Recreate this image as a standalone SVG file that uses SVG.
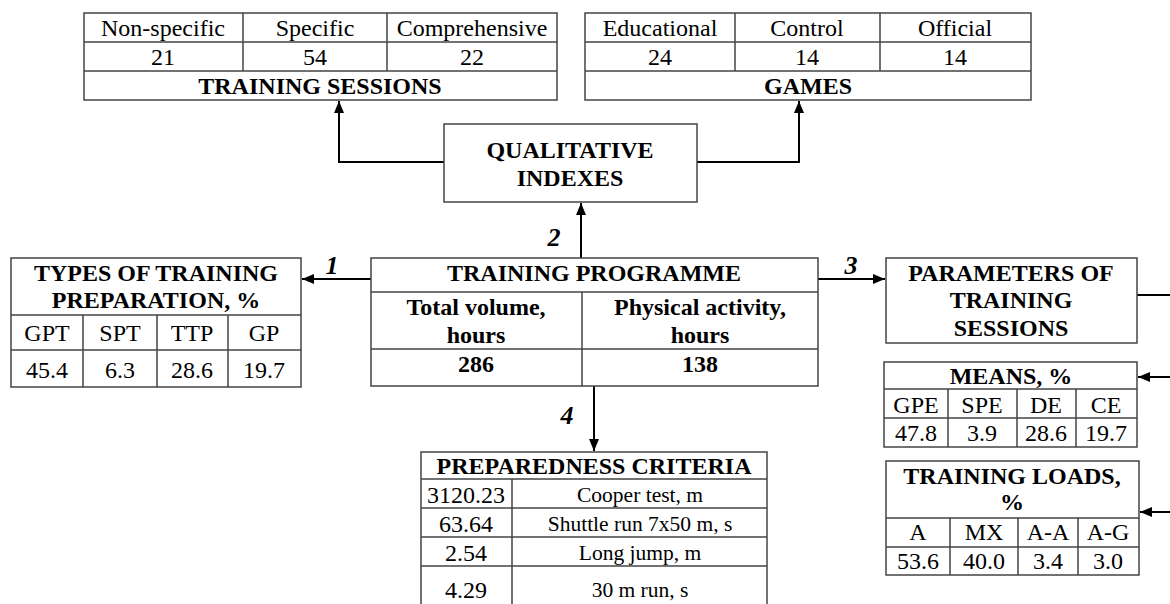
<svg xmlns="http://www.w3.org/2000/svg" width="1170" height="604" viewBox="0 0 1170 604" font-family="'Liberation Serif', 'Times New Roman', Times, 'DejaVu Serif', serif">
<style>
text{font-family:'Liberation Serif','Times New Roman',Times,'DejaVu Serif',serif;font-size:24px;fill:#000;text-anchor:middle}
.b{font-weight:bold}
.s{font-size:21.5px}
.lab{font-weight:bold;font-style:italic;font-size:26px}
.box{fill:#fff;stroke:#444;stroke-width:1.5}
.ln{stroke:#444;stroke-width:1.5;fill:none}
.con{stroke:#000;stroke-width:2;fill:none}
</style>
<defs>
<marker id="ah" viewBox="0 0 12 10" refX="12" refY="5" markerWidth="12" markerHeight="10" markerUnits="userSpaceOnUse" orient="auto">
<path d="M0,0 L12,5 L0,10 Z" fill="#000"/>
</marker>
</defs>
<rect width="1170" height="604" fill="#fff"/>

<g id="connectors">
<path class="con" d="M444,162 H339 V101" marker-end="url(#ah)"/>
<path class="con" d="M697,162 H799 V101" marker-end="url(#ah)"/>
<path class="con" d="M581,258 V203" marker-end="url(#ah)"/>
<path class="con" d="M371,279 H302" marker-end="url(#ah)"/>
<path class="con" d="M818,279 H885" marker-end="url(#ah)"/>
<path class="con" d="M594,386 V451" marker-end="url(#ah)"/>
<path class="con" d="M1137,295 H1170"/>
<path class="con" d="M1170,377 H1138" marker-end="url(#ah)"/>
<path class="con" d="M1170,512 H1140" marker-end="url(#ah)"/>
<text class="lab" x="332" y="274">1</text>
<text class="lab" x="554" y="246">2</text>
<text class="lab" x="851" y="274">3</text>
<text class="lab" x="567" y="424">4</text>
</g>

<g id="training-sessions">
<rect class="box" x="84" y="13" width="473" height="87"/>
<path class="ln" d="M84,42 H557 M84,71 H557 M243,13 V71 M387,13 V71"/>
<text x="163" y="36">Non-specific</text>
<text x="315" y="36">Specific</text>
<text x="472" y="36">Comprehensive</text>
<text x="163" y="65">21</text>
<text x="315" y="65">54</text>
<text x="472" y="65">22</text>
<text class="b" x="320" y="94">TRAINING SESSIONS</text>
</g>

<g id="games">
<rect class="box" x="585" y="13" width="446" height="87"/>
<path class="ln" d="M585,42 H1031 M585,71 H1031 M735,13 V71 M880,13 V71"/>
<text x="660" y="36">Educational</text>
<text x="807" y="36">Control</text>
<text x="955" y="36">Official</text>
<text x="660" y="65">24</text>
<text x="807" y="65">14</text>
<text x="955" y="65">14</text>
<text class="b" x="808" y="94">GAMES</text>
</g>

<g id="qualitative-indexes">
<rect class="box" x="444" y="124" width="253" height="78"/>
<text class="b" x="570" y="158">QUALITATIVE</text>
<text class="b" x="570" y="186">INDEXES</text>
</g>

<g id="types-of-training">
<rect class="box" x="11" y="258" width="290" height="129"/>
<path class="ln" d="M11,315 H301 M11,350 H301 M83,315 V387 M157,315 V387 M228,315 V387"/>
<text class="b" x="156" y="281">TYPES OF TRAINING</text>
<text class="b" x="156" y="308">PREPARATION, %</text>
<text x="47" y="341">GPT</text>
<text x="120" y="341">SPT</text>
<text x="192" y="341">TTP</text>
<text x="264" y="341">GP</text>
<text x="47" y="378">45.4</text>
<text x="120" y="378">6.3</text>
<text x="192" y="378">28.6</text>
<text x="264" y="378">19.7</text>
</g>

<g id="training-programme">
<rect class="box" x="371" y="258" width="447" height="128"/>
<path class="ln" d="M371,292 H818 M371,349 H818 M582,292 V386"/>
<text class="b" x="594" y="281">TRAINING PROGRAMME</text>
<text class="b" x="476" y="315">Total volume,</text>
<text class="b" x="476" y="343">hours</text>
<text class="b" x="700" y="315">Physical activity,</text>
<text class="b" x="700" y="343">hours</text>
<text class="b" x="476" y="372">286</text>
<text class="b" x="700" y="372">138</text>
</g>

<g id="parameters">
<rect class="box" x="886" y="258" width="251" height="85"/>
<text class="b" x="1011" y="281">PARAMETERS OF</text>
<text class="b" x="1011" y="308">TRAINING</text>
<text class="b" x="1011" y="336">SESSIONS</text>
</g>

<g id="means">
<rect class="box" x="884" y="362" width="253" height="85"/>
<path class="ln" d="M884,389 H1137 M884,418 H1137 M948,389 V447 M1017,389 V447 M1076,389 V447"/>
<text class="b" x="1011" y="384">MEANS, %</text>
<text x="916" y="413">GPE</text>
<text x="982" y="413">SPE</text>
<text x="1046" y="413">DE</text>
<text x="1106" y="413">CE</text>
<text x="916" y="441">47.8</text>
<text x="982" y="441">3.9</text>
<text x="1046" y="441">28.6</text>
<text x="1106" y="441">19.7</text>
</g>

<g id="training-loads">
<rect class="box" x="886" y="461" width="253" height="114"/>
<path class="ln" d="M886,518 H1139 M886,547 H1139 M950,518 V575 M1018,518 V575 M1078,518 V575"/>
<text class="b" x="1012" y="484">TRAINING LOADS,</text>
<text class="b" x="1012" y="510">%</text>
<text x="918" y="540">A</text>
<text x="984" y="540">MX</text>
<text x="1048" y="540">A-A</text>
<text x="1108" y="540">A-G</text>
<text x="918" y="569">53.6</text>
<text x="984" y="569">40.0</text>
<text x="1048" y="569">3.4</text>
<text x="1108" y="569">3.0</text>
</g>

<g id="preparedness-criteria">
<rect class="box" x="421" y="452" width="346" height="170"/>
<path class="ln" d="M421,479 H767 M421,508 H767 M421,537 H767 M421,566 H767 M512,479 V622"/>
<text class="b" x="594" y="474">PREPAREDNESS CRITERIA</text>
<text x="466" y="503">3120.23</text>
<text x="466" y="532">63.64</text>
<text x="466" y="561">2.54</text>
<text x="466" y="598">4.29</text>
<text class="s" x="640" y="502">Cooper test, m</text>
<text class="s" x="640" y="531">Shuttle run 7x50 m, s</text>
<text class="s" x="640" y="560">Long jump, m</text>
<text class="s" x="640" y="597">30 m run, s</text>
</g>
</svg>
